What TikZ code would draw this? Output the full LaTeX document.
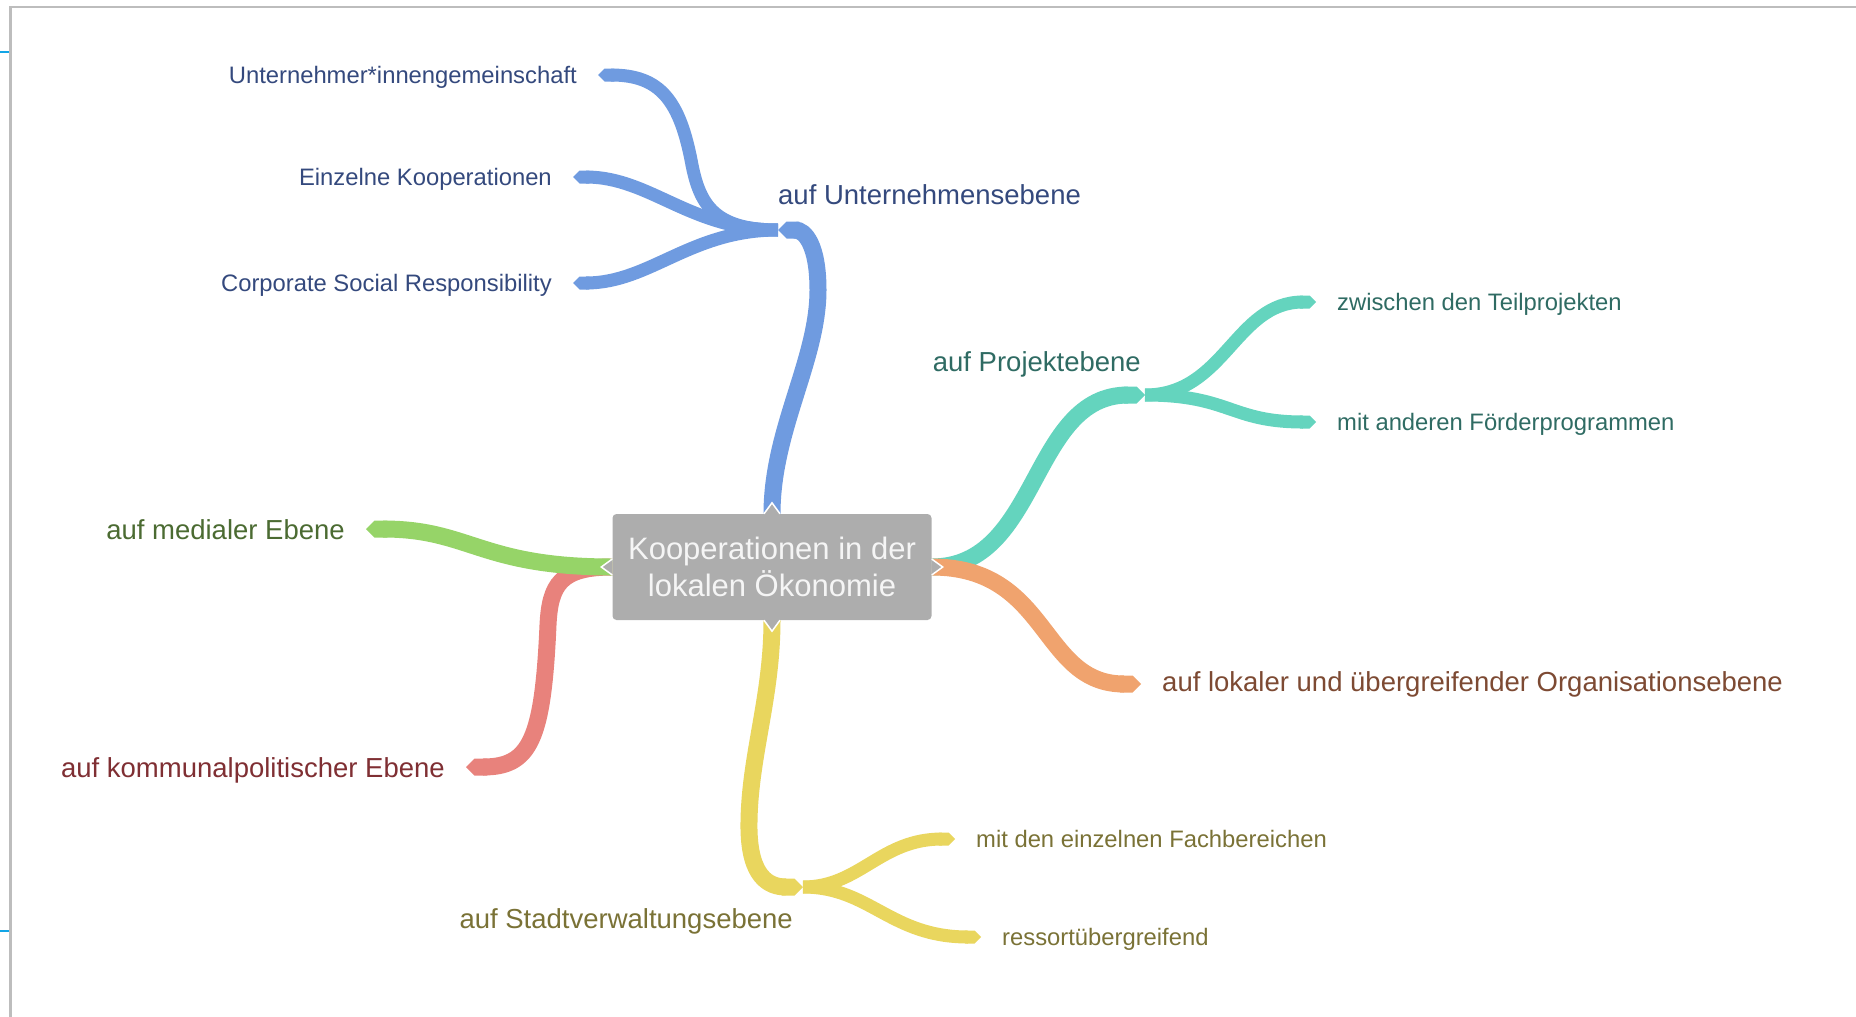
\documentclass[tikz,border=0pt]{standalone}
\usepackage{fontspec}
\setmainfont{Liberation Sans}
\usepackage{tikz}
\usetikzlibrary{positioning,arrows.meta}

\definecolor{boxgray}{HTML}{ADADAD}
\definecolor{roottext}{HTML}{F5F5F5}
\definecolor{framegray}{HTML}{BDBDBD}
\definecolor{tickblue}{HTML}{12A5E6}
\definecolor{bluebr}{HTML}{6F9BE0}
\definecolor{bluetext}{HTML}{34497D}
\definecolor{tealbr}{HTML}{64D4BE}
\definecolor{tealtext}{HTML}{2F6B63}
\definecolor{orangebr}{HTML}{F0A36E}
\definecolor{orangetext}{HTML}{7D4A33}
\definecolor{greenbr}{HTML}{96D468}
\definecolor{greentext}{HTML}{4B6B32}
\definecolor{redbr}{HTML}{E8827C}
\definecolor{redtext}{HTML}{7F2F33}
\definecolor{yellowbr}{HTML}{E9D65E}
\definecolor{yellowtext}{HTML}{7A7236}

\pgfdeclarelayer{bg}
\pgfsetlayers{bg,main}

\begin{document}
\begin{tikzpicture}[x=1pt, y=-1pt,
					root/.style={rectangle, rounded corners=4pt, fill=boxgray, text=roottext, minimum width=319pt, minimum height=106pt, align=center, font=\fontsize{31}{37}\selectfont},
					toplabel/.style={inner sep=0pt, text height=20pt, text depth=0pt, font=\fontsize{27.5}{33}\selectfont},
					sublabel/.style={inner sep=0pt, text height=17pt, text depth=0pt, font=\fontsize{23.8}{28}\selectfont},
					branch/.style={line width=17pt, -{Triangle Cap}},
					twig/.style={line width=13pt, -{Triangle Cap}},
					halo/.style={preaction={draw=white, line width=20pt}},
					notch/.style={fill=boxgray, draw=white, line width=1.5pt},
					node distance=21pt
				]
				\useasboundingbox (0,0) rectangle (1856,1017);
				\draw[framegray, line width=2.5pt] (10.5,1017) -- (10.5,7) -- (1856,7);
				\draw[tickblue, line width=2pt] (0,52) -- (9,52);
				\draw[tickblue, line width=2pt] (0,931) -- (9,931);

				\node[root] (kooperation) at (772,567) {Kooperationen in der\\lokalen Ökonomie};

				\coordinate (ujunc) at (778,230);
				\coordinate (pjunc) at (1145,395);
				\coordinate (yjunc) at (803,887);
				\coordinate (gemtip) at (598,75);
				\coordinate (einztip) at (573,177);
				\coordinate (csrtip) at (573,283);
				\coordinate (teiltip) at (1316,302);
				\coordinate (foerdtip) at (1316,422);
				\coordinate (orgtip) at (1141,684);
				\coordinate (medtip) at (366,529);
				\coordinate (komtip) at (466,767);
				\coordinate (fachtip) at (955,839);
				\coordinate (restip) at (981,937);

				\node[toplabel, text=bluetext] (unternehmen) [above right=25pt and 0pt of ujunc] {auf Unternehmensebene};
				\node[sublabel, text=bluetext] (gemeinschaft) [left=of gemtip] {Unternehmer*innengemeinschaft};
				\node[sublabel, text=bluetext] (einzelne) [left=of einztip] {Einzelne Kooperationen};
				\node[sublabel, text=bluetext] (csr) [left=of csrtip] {Corporate Social Responsibility};
				\node[toplabel, text=tealtext] (projekt) [above left=23pt and 4pt of pjunc] {auf Projektebene};
				\node[sublabel, text=tealtext] (teilprojekte) [right=of teiltip] {zwischen den Teilprojekten};
				\node[sublabel, text=tealtext] (foerder) [right=of foerdtip] {mit anderen Förderprogrammen};
				\node[toplabel, text=orangetext, yshift=3pt] (organisation) [right=of orgtip] {auf lokaler und übergreifender Organisationsebene};
				\node[toplabel, text=greentext] (medial) [left=of medtip] {auf medialer Ebene};
				\node[toplabel, text=redtext] (kommunal) [left=of komtip] {auf kommunalpolitischer Ebene};
				\node[toplabel, text=yellowtext] (stadtverw) [below left=21pt and 10pt of yjunc] {auf Stadtverwaltungsebene};
				\node[sublabel, text=yellowtext] (fachbereiche) [right=of fachtip] {mit den einzelnen Fachbereichen};
				\node[sublabel, text=yellowtext] (ressort) [right=of restip] {ressortübergreifend};

				\begin{pgfonlayer}{bg}
				\draw[twig, bluebr] (ujunc) .. controls (715,230) and (700,205) .. (692,165) .. controls (680,100) and (660,75) .. (gemtip);
				\draw[twig, bluebr] (ujunc) .. controls (690,230) and (650,177) .. (einztip);
				\draw[twig, bluebr] (ujunc) .. controls (690,230) and (650,283) .. (csrtip);
				\draw[branch, halo, bluebr] (kooperation.north) .. controls (772,430) and (818,360) .. (818,290) .. controls (818,245) and (805,230) .. (ujunc);
				\draw[twig, tealbr] (pjunc) .. controls (1225,395) and (1235,302) .. (teiltip);
				\draw[twig, tealbr] (pjunc) .. controls (1230,395) and (1230,422) .. (foerdtip);
				\draw[branch, halo, tealbr] (kooperation.east) .. controls (1040,567) and (1030,395) .. (pjunc);
				\draw[branch, orangebr] (kooperation.east) .. controls (1050,567) and (1040,684) .. (orgtip);
				\draw[twig, yellowbr] (yjunc) .. controls (860,887) and (880,839) .. (fachtip);
				\draw[twig, yellowbr] (yjunc) .. controls (870,887) and (890,937) .. (restip);
				\draw[branch, halo, yellowbr] (kooperation.south) .. controls (772,700) and (748,760) .. (749,830) .. controls (750,876) and (768,887) .. (yjunc);
				\draw[branch, redbr] (kooperation.west) .. controls (560,567) and (550,585) .. (548,625) .. controls (543,740) and (530,767) .. (komtip);
				\draw[branch, greenbr] (kooperation.west) .. controls (480,567) and (470,529) .. (medtip);
				\end{pgfonlayer}

				\filldraw[notch] ([xshift=-8pt]kooperation.north) -- ([yshift=11pt]kooperation.north) -- ([xshift=8pt]kooperation.north);
				\filldraw[notch] ([xshift=-8pt]kooperation.south) -- ([yshift=-11pt]kooperation.south) -- ([xshift=8pt]kooperation.south);
				\filldraw[notch] ([yshift=8pt]kooperation.west) -- ([xshift=-11pt]kooperation.west) -- ([yshift=-8pt]kooperation.west);
				\filldraw[notch] ([yshift=8pt]kooperation.east) -- ([xshift=11pt]kooperation.east) -- ([yshift=-8pt]kooperation.east);
				\end{tikzpicture}
\end{document}
